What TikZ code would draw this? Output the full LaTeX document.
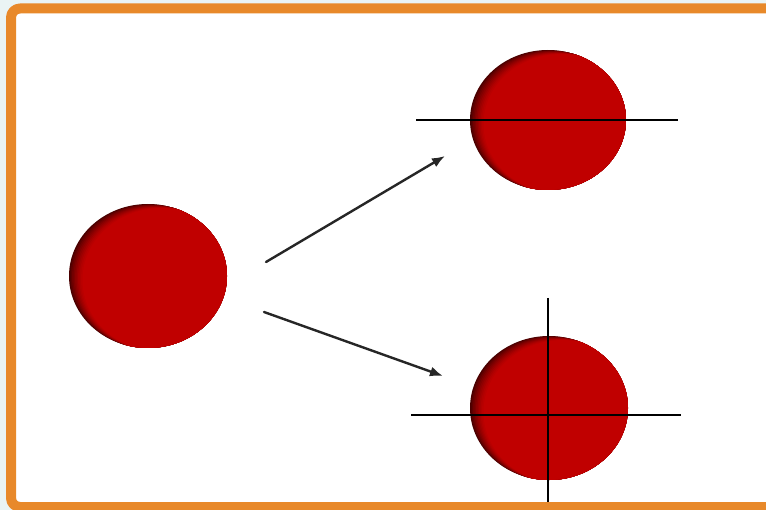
\documentclass[tikz,border=0pt]{standalone}
\usepackage{xcolor}
\definecolor{frameorange}{HTML}{E8892A}
\definecolor{pagetint}{HTML}{EAF4F4}
\definecolor{cellred}{HTML}{C00000}
\definecolor{celldark}{HTML}{4A0000}
\definecolor{arrowgray}{HTML}{262626}
\usepackage{tikz}
\usetikzlibrary{arrows.meta,calc,positioning}
\tikzset{
  >={Latex[length=13pt,width=10pt]},
  every picture/.style={line cap=round, line join=round},
  frame/.style={draw=frameorange, line width=10pt, rounded corners=9pt, fill=white},
  move/.style={arrowgray, line width=2.4pt, ->},
  cutline/.style={black, line width=1.4pt, line cap=butt},
}
\begin{document}
\begin{tikzpicture}[x=1pt, y=-1pt]
\useasboundingbox (0,0) rectangle (766,510);
\fill[pagetint] (0,0) rectangle (766,510);
\begin{scope}
\clip (0,0) rectangle (766,510);
\draw[frame] (11,8.5) rectangle (800,507);
\end{scope}

% ------------------------------------------------------------- cells
\coordinate (src) at (148,276);
\coordinate (top) at (548,120);
\coordinate (bot) at (549,408);
\foreach \c/\rx/\ry in {src/79/72, top/78/70, bot/79/72} {
  \begin{scope}
    \clip (\c) ellipse ({\rx} and {\ry});
    \fill[celldark] (\c) ellipse ({\rx} and {\ry});
    \foreach \d/\p in {1.5/18,3/32,4.5/45,6/57,7.5/68,9/78,10.5/87,12/94,13.5/100}
      \fill[cellred!\p!celldark] ($(\c)+(\d,0.3*\d)$) ellipse ({\rx} and {\ry});
  \end{scope}
}

% ------------------------------------------------------------- arrows
\coordinate (upfrom) at (266,262);
\coordinate (upto) at (445,156);
\coordinate (downfrom) at (264,312);
\coordinate (downto) at (443,376);
\draw[move] (upfrom) -- (upto);
\draw[move] (downfrom) -- (downto);

% ------------------------------------------------------------- cuts
\coordinate (tl) at (416,120);
\coordinate (tr) at (678,120);
\draw[cutline, line width=2pt] (tl) -- (tr);
\coordinate (bl) at (411,415);
\coordinate (br) at (681,415);
\coordinate (bt) at (548,298);
\coordinate (bb) at (548,502);
\draw[cutline] (bl) -- (br);
\draw[cutline] (bt) -- (bb);
\end{tikzpicture}
\end{document}
